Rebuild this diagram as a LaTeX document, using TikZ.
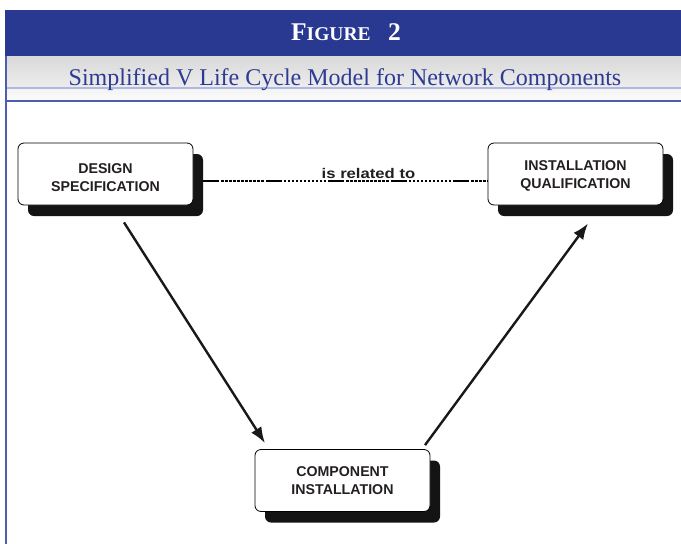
\documentclass[tikz,border=0pt]{standalone}
\usepackage{fontspec}
\usepackage{graphicx}
\setmainfont{Liberation Serif}
\newfontfamily\boxfont{Liberation Sans}
\usetikzlibrary{arrows.meta,shadows,calc}
\definecolor{bandblue}{RGB}{41,57,146}
\definecolor{lineblue}{RGB}{78,92,178}
\definecolor{paleblue}{RGB}{176,184,226}
\definecolor{titleblue}{RGB}{46,59,147}
\definecolor{inkgray}{RGB}{35,31,32}
\tikzset{
  vbox/.style={rectangle, rounded corners=6pt, draw=black, line width=0.8pt, fill=white,
    minimum width=175pt, minimum height=62pt, inner sep=0pt,
    drop shadow={shadow xshift=10pt, shadow yshift=-11pt, fill=black!92, opacity=1}},
  boxtext/.style={inner sep=0pt, align=center, text=inkgray,
    font=\boxfont\bfseries\fontsize{14.2}{18}\selectfont},
  reltext/.style={text=inkgray, font=\boxfont\bfseries\fontsize{14}{16}\selectfont, inner sep=0pt, anchor=base},
  relline/.style={line width=1.4pt, black,
    dash pattern=on 16pt off 2pt on 2.5pt off 1.5pt on 2.5pt off 1.5pt on 2.5pt off 1.5pt on 2.5pt off 1.5pt on 2.5pt off 1.5pt on 2.5pt off 1.5pt on 2.5pt off 1.5pt on 2.5pt off 1.5pt on 2.5pt off 1.5pt on 2.5pt off 1.5pt on 2.5pt off 2pt},
  arr/.style={line width=2.4pt, black!90, -{Latex[length=16pt,width=12pt]}},
  titletext/.style={text=white, inner sep=0pt, anchor=base},
  subtext/.style={text=titleblue, inner sep=0pt, anchor=base, font=\fontsize{24}{26}\selectfont}
}
\begin{document}
\begin{tikzpicture}[x=1pt,y=-1pt]
\useasboundingbox (0,0) rectangle (681,544);
\fill[white] (0,0) rectangle (681,544);
% header bands
\fill[bandblue] (5,10) rectangle (681,56);
\shade[top color=black!15, bottom color=black!7] (5,56) rectangle (681,88);
\shade[top color=black!5, bottom color=black!1] (5,88) rectangle (681,101);
\draw[paleblue, line width=1.2pt] (5,88) -- (681,88);
\draw[lineblue, line width=1.8pt] (5,101) -- (681,101);
\draw[lineblue, line width=1.8pt] (6,56) -- (6,544);
\node[titletext] (title) at (346,40) {\bfseries\fontsize{25.5}{26}\selectfont F\fontsize{19.5}{26}\selectfont IGURE\hspace{0.9em}\fontsize{25.5}{26}\selectfont 2};
\node[subtext] (subtitle) at (345,85) {Simplified V Life Cycle Model for Network Components};
% boxes
\node[vbox] (ds) at (105.5,174) {};
\node[vbox] (iq) at (575.5,174) {};
\node[vbox] (ci) at (342.5,480.5) {};
\node[boxtext] (dst) at ([yshift=-3.5pt]ds.center) {DESIGN\\SPECIFICATION};
\node[boxtext] (iqt) at ([yshift=-2pt]iq.center) {INSTALLATION\\QUALIFICATION};
\node[boxtext] (cit) at ([yshift=-0.5pt]ci.center) {COMPONENT\\INSTALLATION};
% relation
\node[reltext] (rel) at (368.5,178) {\scalebox{1.19}[1]{is related to}};
\draw[relline] ([xshift=10pt,yshift=-7pt]ds.east) -- ([yshift=-7pt]iq.west);
% arrows
\draw[arr] ([xshift=18.5pt,yshift=-17pt]ds.south) -- ([xshift=-77.5pt,yshift=6pt]ci.north);
\draw[arr] ([xshift=82.5pt,yshift=4pt]ci.north) -- ([xshift=12.5pt,yshift=-18pt]iq.south);
\end{tikzpicture}
\end{document}
